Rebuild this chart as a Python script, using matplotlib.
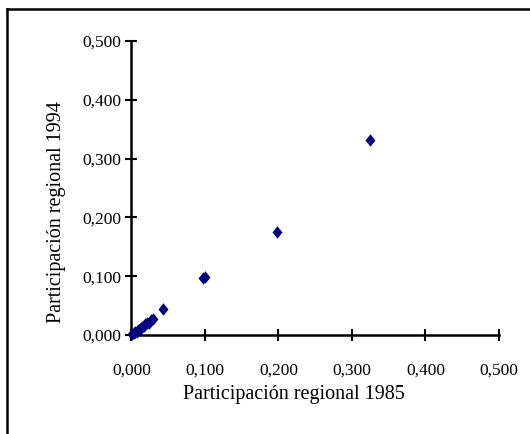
import matplotlib.pyplot as plt
from matplotlib.lines import Line2D
from matplotlib.ticker import FuncFormatter

# participacion regional (1985 vs 1994)
part_1985 = [0.001, 0.003, 0.005, 0.007, 0.009, 0.011, 0.013, 0.015, 0.017,
             0.019, 0.021, 0.024, 0.027, 0.030, 0.043, 0.098, 0.100, 0.198, 0.325]
part_1994 = [0.001, 0.003, 0.005, 0.006, 0.009, 0.010, 0.012, 0.014, 0.016,
             0.018, 0.020, 0.021, 0.025, 0.027, 0.045, 0.097, 0.099, 0.176, 0.331]
ticks = [0.0, 0.1, 0.2, 0.3, 0.4, 0.5]

plt.rcParams['font.family'] = ['Liberation Serif', 'DejaVu Serif']

W, H = 530, 434
fig = plt.figure(figsize=(W / 100, H / 100), dpi=100)
ax = fig.add_axes([0.248, 0.228, 0.6935, 0.6775])

diamond = [(0, 1), (0.8, 0), (0, -1), (-0.8, 0), (0, 1)]
ax.scatter(part_1985, part_1994, marker=diamond, s=80, color='#000080',
           linewidths=0, clip_on=False, zorder=3)

ax.set_xlim(0, 0.5)
ax.set_ylim(0, 0.5)
ax.set_xticks(ticks)
ax.set_yticks(ticks)
fmt = FuncFormatter(lambda v, p: f'{v:.3f}'.replace('.', ','))
ax.xaxis.set_major_formatter(fmt)
ax.yaxis.set_major_formatter(fmt)
ax.tick_params(direction='inout', length=8, width=1.5, labelsize=12.5,
               colors='black')
ax.tick_params(axis='x', pad=16)
ax.tick_params(axis='y', pad=3)

for s in ['top', 'right']:
    ax.spines[s].set_visible(False)
for s in ['left', 'bottom']:
    ax.spines[s].set_linewidth(1.8)

# titulos de ejes, colocados como en el original
fig.text(294 / W, 1 - 395 / H, 'Participación regional 1985', fontsize=14.5,
         ha='center', va='center')
fig.text(56 / W, 1 - 212 / H, 'Participación regional 1994', fontsize=14.5,
         ha='center', va='center', rotation=90)

# marco del grafico (solo arriba e izquierda)
fig.add_artist(Line2D([6.5 / W, 1], [1 - 8.5 / H, 1 - 8.5 / H],
                      transform=fig.transFigure, color='black', lw=1.8))
fig.add_artist(Line2D([6.5 / W, 6.5 / W], [0, 1 - 8.5 / H],
                      transform=fig.transFigure, color='black', lw=1.8))

fig.savefig('out.png', dpi=100)
